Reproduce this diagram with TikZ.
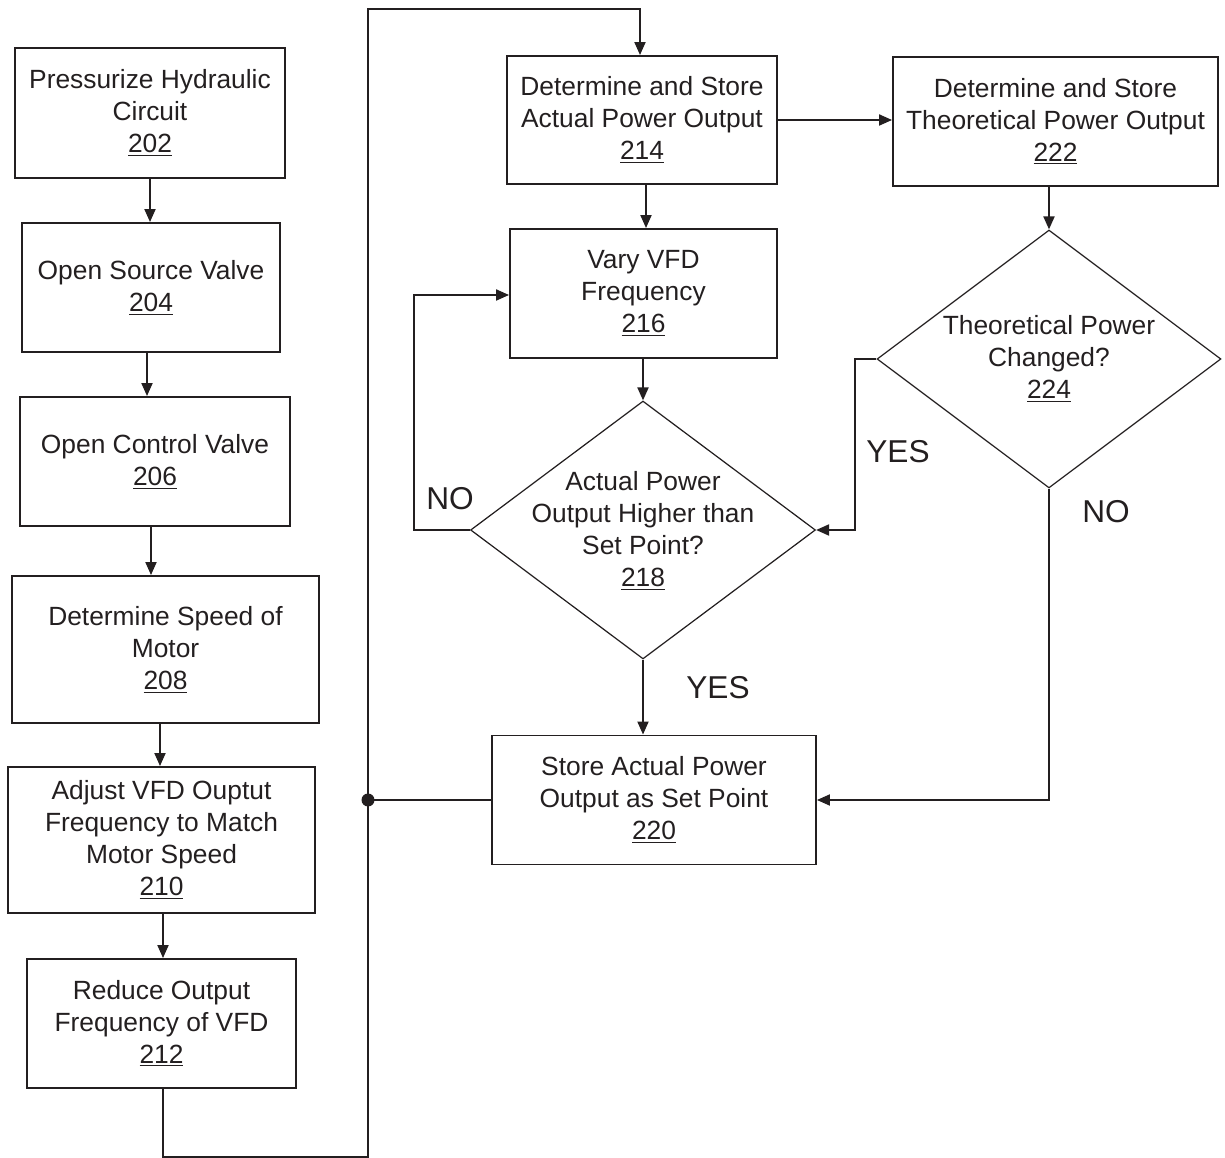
\documentclass[tikz,border=0pt]{standalone}
\usepackage{fontspec}
\setmainfont{Liberation Sans}
\usetikzlibrary{shapes.geometric,arrows.meta,calc}
\definecolor{ink}{RGB}{35,31,32}
\begin{document}
\begin{tikzpicture}[x=0.02cm,y=-0.02cm, every node/.style={text=ink}, color=ink,
  box/.style={draw=ink, line width=1.1pt, rectangle, inner sep=0pt, align=center, font=\fontsize{15}{18.2}\selectfont},
  dia/.style={draw=ink, line width=0.7pt, diamond, inner sep=0pt},
  txt/.style={align=center, font=\fontsize{15}{18.2}\selectfont},
  lbl/.style={font=\fontsize{18}{20}\selectfont},
  conn/.style={draw=ink, line width=1.1pt},
  arr/.style={draw=ink, line width=1.1pt, -{Triangle[length=0.26cm,width=0.22cm]}}]
\useasboundingbox (0,0) rectangle (1225,1158);
% left column
\node[box, minimum width=5.4cm, minimum height=2.6cm] (n202) at (150,113) {Pressurize Hydraulic\\Circuit\\\underline{202}};
\node[box, minimum width=5.16cm, minimum height=2.58cm] (n204) at (151,287.5) {Open Source Valve\\\underline{204}};
\node[box, minimum width=5.4cm, minimum height=2.58cm] (n206) at (155,461.5) {Open Control Valve\\\underline{206}};
\node[box, minimum width=6.14cm, minimum height=2.94cm] (n208) at (165.5,649.5) {Determine Speed of\\Motor\\\underline{208}};
\node[box, minimum width=6.14cm, minimum height=2.92cm] (n210) at (161.5,840) {Adjust VFD Ouptut\\Frequency to Match\\Motor Speed\\\underline{210}};
\node[box, minimum width=5.38cm, minimum height=2.58cm] (n212) at (161.5,1023.5) {Reduce Output\\Frequency of VFD\\\underline{212}};
% right part
\node[box, minimum width=5.4cm, minimum height=2.56cm] (n214) at (642,120) {Determine and Store\\Actual Power Output\\\underline{214}};
\node[box, minimum width=6.5cm, minimum height=2.58cm] (n222) at (1055.5,121.5) {Determine and Store\\Theoretical Power Output\\\underline{222}};
\node[box, minimum width=5.34cm, minimum height=2.58cm] (n216) at (643.5,293.5) {Vary VFD\\Frequency\\\underline{216}};
\node[dia, minimum width=6.9cm, minimum height=5.16cm] (d218) at (643,530) {};
\node[txt] (t218) at (643,531) {Actual Power\\Output Higher than\\Set Point?\\\underline{218}};
\node[dia, minimum width=6.88cm, minimum height=5.16cm] (d224) at (1049,359) {};
\node[txt] (t224) at (1049,359) {Theoretical Power\\Changed?\\\underline{224}};
\node[box, minimum width=6.48cm, minimum height=2.58cm] (n220) at (654,800) {Store Actual Power\\Output as Set Point\\\underline{220}};
% coordinates
\coordinate (jb) at (368,1157);
\coordinate (jt) at (368,9);
\coordinate (jd) at (n220.west -| jb);
% connectors left column
\draw[arr] (n202.south) -- (n202.south |- n204.north);
\draw[arr] (147,352) coordinate (a1) -- (a1 |- n206.north);
\draw[arr] (151,526) coordinate (a2) -- (a2 |- n208.north);
\draw[arr] (160,723) coordinate (a3) -- (a3 |- n210.north);
\draw[arr] (163,913) coordinate (a4) -- (a4 |- n212.north);
\draw[arr] (n212.south -| a4) |- (jb) -- (jt) -| (n214.north -| 640,0);
\fill[ink] (jd) circle[radius=0.13cm];
\draw[conn] (n220.west) -- (jd);
% right connectors
\draw[arr] (n214.east) -- (n214.east -| n222.west);
\draw[arr] (n214.south -| 646,0) -- (n216.north -| 646,0);
\draw[arr] (n216.south -| d218.north) -- (d218.north);
\draw[arr] (d218.west) -| (414,295) -- (n216.west |- 0,295);
\draw[arr] (d218.south) -- (d218.south |- n220.north);
\draw[arr] (d224.north |- n222.south) -- (d224.north);
\draw[arr] (d224.west) -| (855,530) -- (d218.east);
\draw[arr] (d224.south) |- (n220.east);
% labels
\node[lbl] (lno1) at (450,499) {NO};
\node[lbl] (lyes1) at (718,688) {YES};
\node[lbl] (lyes2) at (898,452) {YES};
\node[lbl] (lno2) at (1106,512) {NO};
\end{tikzpicture}
\end{document}
